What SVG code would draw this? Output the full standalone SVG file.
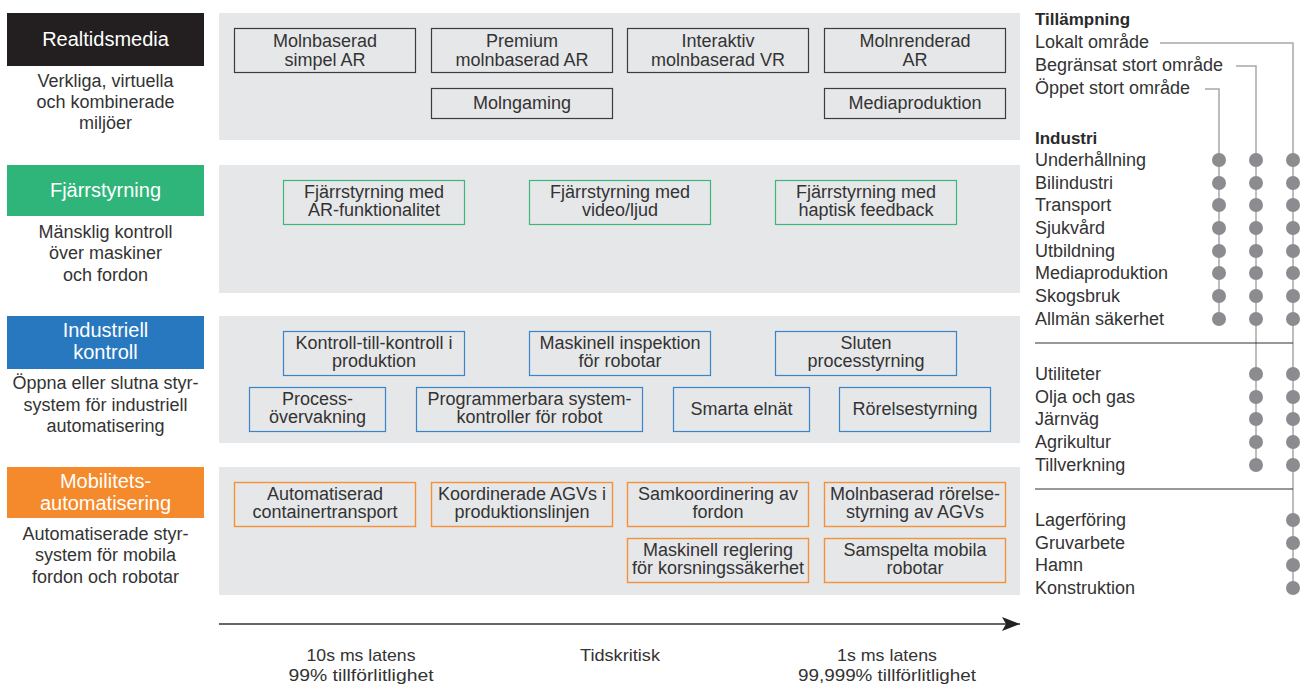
<svg xmlns="http://www.w3.org/2000/svg" width="1306" height="684" viewBox="0 0 1306 684">
<defs>
<style>
text{font-family:"Liberation Sans",Arial,sans-serif;fill:#333;}
.t{font-size:18px;text-anchor:middle;}
.h{font-size:20px;text-anchor:middle;fill:#fff;}
.d{font-size:18px;text-anchor:middle;}
.l{font-size:18px;}
.lb{font-size:17px;font-weight:bold;fill:#2a2a2a;}
.ax{font-size:17px;text-anchor:middle;}
.panel{fill:#e6e7e9;}
.b1{fill:none;stroke:#3c3c3c;stroke-width:1.2;}
.b2{fill:none;stroke:#3fb57e;stroke-width:1.2;}
.b3{fill:none;stroke:#3a84c8;stroke-width:1.2;}
.b4{fill:none;stroke:#f39238;stroke-width:1.4;}
.vl{fill:none;stroke:#a8a8a8;stroke-width:1.5;}
.dot{fill:#8c8c90;}
.div{stroke:#333;stroke-width:1.2;}
</style>
<marker id="arr" markerWidth="20" markerHeight="14" refX="18" refY="7" orient="auto" markerUnits="userSpaceOnUse">
<path d="M0,0 L18,7 L0,14 L4,7 Z" fill="#222"/>
</marker>
</defs>

<g id="panels">
<rect class="panel" x="219" y="13" width="801" height="127"/>
<rect class="panel" x="219" y="165" width="801" height="128"/>
<rect class="panel" x="219" y="316" width="801" height="127"/>
<rect class="panel" x="219" y="467" width="801" height="128"/>
</g>

<g id="hdr-realtid">
<rect x="7" y="13" width="197" height="53" fill="#231f20"/>
<text class="h" x="105.5" y="46">Realtidsmedia</text>
<text class="d" x="105.5" y="87">Verkliga, virtuella</text>
<text class="d" x="105.5" y="108">och kombinerade</text>
<text class="d" x="105.5" y="129">miljöer</text>
</g>
<g id="hdr-fjarr">
<rect x="7" y="165" width="197" height="51" fill="#2fb57a"/>
<text class="h" x="105.5" y="197">Fjärrstyrning</text>
<text class="d" x="105.5" y="238">Mänsklig kontroll</text>
<text class="d" x="105.5" y="259">över maskiner</text>
<text class="d" x="105.5" y="281">och fordon</text>
</g>
<g id="hdr-ind">
<rect x="7" y="316" width="197" height="53" fill="#2878c0"/>
<text class="h" x="105.5" y="337">Industriell</text>
<text class="h" x="105.5" y="359">kontroll</text>
<text class="d" x="105.5" y="389">Öppna eller slutna styr-</text>
<text class="d" x="105.5" y="411">system för industriell</text>
<text class="d" x="105.5" y="432">automatisering</text>
</g>
<g id="hdr-mob">
<rect x="7" y="467" width="197" height="51" fill="#f58a2c"/>
<text class="h" x="105.5" y="488">Mobilitets-</text>
<text class="h" x="105.5" y="510">automatisering</text>
<text class="d" x="105.5" y="540">Automatiserade styr-</text>
<text class="d" x="105.5" y="561">system för mobila</text>
<text class="d" x="105.5" y="583">fordon och robotar</text>
</g>

<g id="n-simpelar"><rect class="b1" x="234.5" y="28.5" width="181" height="44"/><text class="t" x="325" y="47">Molnbaserad</text><text class="t" x="325" y="66">simpel AR</text></g>
<g id="n-premium"><rect class="b1" x="431.5" y="28.5" width="181" height="44"/><text class="t" x="522" y="47">Premium</text><text class="t" x="522" y="66">molnbaserad AR</text></g>
<g id="n-vr"><rect class="b1" x="627.5" y="28.5" width="181" height="44"/><text class="t" x="718" y="47">Interaktiv</text><text class="t" x="718" y="66">molnbaserad VR</text></g>
<g id="n-renderad"><rect class="b1" x="824.5" y="28.5" width="181" height="44"/><text class="t" x="915" y="47">Molnrenderad</text><text class="t" x="915" y="66">AR</text></g>
<g id="n-gaming"><rect class="b1" x="431.5" y="88.5" width="181" height="30"/><text class="t" x="522" y="109">Molngaming</text></g>
<g id="n-mediaprod"><rect class="b1" x="824.5" y="88.5" width="181" height="30"/><text class="t" x="915" y="109">Mediaproduktion</text></g>

<g id="n-fj-ar"><rect class="b2" x="283.5" y="180.5" width="181" height="44"/><text class="t" x="374" y="198">Fjärrstyrning med</text><text class="t" x="374" y="216">AR-funktionalitet</text></g>
<g id="n-fj-video"><rect class="b2" x="529.5" y="180.5" width="181" height="44"/><text class="t" x="620" y="198">Fjärrstyrning med</text><text class="t" x="620" y="216">video/ljud</text></g>
<g id="n-fj-hapt"><rect class="b2" x="775.5" y="180.5" width="181" height="44"/><text class="t" x="866" y="198">Fjärrstyrning med</text><text class="t" x="866" y="216">haptisk feedback</text></g>

<g id="n-k2k"><rect class="b3" x="283.5" y="331.5" width="181" height="44"/><text class="t" x="374" y="349">Kontroll-till-kontroll i</text><text class="t" x="374" y="367">produktion</text></g>
<g id="n-insp"><rect class="b3" x="529.5" y="331.5" width="181" height="44"/><text class="t" x="620" y="349">Maskinell inspektion</text><text class="t" x="620" y="367">för robotar</text></g>
<g id="n-sluten"><rect class="b3" x="775.5" y="331.5" width="181" height="44"/><text class="t" x="866" y="349">Sluten</text><text class="t" x="866" y="367">processtyrning</text></g>
<g id="n-procov"><rect class="b3" x="249.5" y="387.5" width="136" height="44"/><text class="t" x="317.5" y="405">Process-</text><text class="t" x="317.5" y="423">övervakning</text></g>
<g id="n-prog"><rect class="b3" x="416.5" y="387.5" width="226" height="44"/><text class="t" x="529.5" y="405">Programmerbara system-</text><text class="t" x="529.5" y="423">kontroller för robot</text></g>
<g id="n-smarta"><rect class="b3" x="673.5" y="387.5" width="136" height="44"/><text class="t" x="741.5" y="415">Smarta elnät</text></g>
<g id="n-rorelse"><rect class="b3" x="839.5" y="387.5" width="151" height="44"/><text class="t" x="915" y="415">Rörelsestyrning</text></g>

<g id="n-cont"><rect class="b4" x="234.5" y="482.5" width="181" height="44"/><text class="t" x="325" y="500">Automatiserad</text><text class="t" x="325" y="518">containertransport</text></g>
<g id="n-agv"><rect class="b4" x="431.5" y="482.5" width="181" height="44"/><text class="t" x="522" y="500">Koordinerade AGVs i</text><text class="t" x="522" y="518">produktionslinjen</text></g>
<g id="n-samk"><rect class="b4" x="627.5" y="482.5" width="181" height="44"/><text class="t" x="718" y="500">Samkoordinering av</text><text class="t" x="718" y="518">fordon</text></g>
<g id="n-molnagv"><rect class="b4" x="824.5" y="482.5" width="181" height="44"/><text class="t" x="915" y="500">Molnbaserad rörelse-</text><text class="t" x="915" y="518">styrning av AGVs</text></g>
<g id="n-korsning"><rect class="b4" x="627.5" y="538.5" width="181" height="44"/><text class="t" x="718" y="556">Maskinell reglering</text><text class="t" x="718" y="574">för korsningssäkerhet</text></g>
<g id="n-samspelta"><rect class="b4" x="824.5" y="538.5" width="181" height="44"/><text class="t" x="915" y="556">Samspelta mobila</text><text class="t" x="915" y="574">robotar</text></g>

<g id="connectors">
<line x1="219" y1="624" x2="1020" y2="624" stroke="#333" stroke-width="1.5" marker-end="url(#arr)"/>
<polyline class="vl" points="1160,43 1293,43 1293,588"/>
<polyline class="vl" points="1236,66 1256,66 1256,465"/>
<polyline class="vl" points="1205,89 1219,89 1219,319"/>
<line class="div" x1="1035" y1="343" x2="1293" y2="343"/>
<line class="div" x1="1035" y1="489" x2="1293" y2="489"/>
</g>

<g id="axis-labels">
<text class="ax" x="361" y="661" textLength="109" lengthAdjust="spacingAndGlyphs">10s ms latens</text>
<text class="ax" x="361" y="681" textLength="145" lengthAdjust="spacingAndGlyphs">99% tillförlitlighet</text>
<text class="ax" x="620" y="661" textLength="80" lengthAdjust="spacingAndGlyphs">Tidskritisk</text>
<text class="ax" x="887" y="661" textLength="100" lengthAdjust="spacingAndGlyphs">1s ms latens</text>
<text class="ax" x="887" y="681" textLength="178" lengthAdjust="spacingAndGlyphs">99,999% tillförlitlighet</text>
</g>

<g id="legend">
<text class="lb" x="1035" y="25">Tillämpning</text>
<text class="l" x="1035" y="48">Lokalt område</text>
<text class="l" x="1035" y="71">Begränsat stort område</text>
<text class="l" x="1035" y="94">Öppet stort område</text>
<text class="lb" x="1035" y="144">Industri</text>
<text class="l" x="1035" y="166">Underhållning</text>
<text class="l" x="1035" y="189">Bilindustri</text>
<text class="l" x="1035" y="211">Transport</text>
<text class="l" x="1035" y="234">Sjukvård</text>
<text class="l" x="1035" y="257">Utbildning</text>
<text class="l" x="1035" y="279">Mediaproduktion</text>
<text class="l" x="1035" y="302">Skogsbruk</text>
<text class="l" x="1035" y="325">Allmän säkerhet</text>
<text class="l" x="1035" y="380">Utiliteter</text>
<text class="l" x="1035" y="403">Olja och gas</text>
<text class="l" x="1035" y="425">Järnväg</text>
<text class="l" x="1035" y="448">Agrikultur</text>
<text class="l" x="1035" y="471">Tillverkning</text>
<text class="l" x="1035" y="526">Lagerföring</text>
<text class="l" x="1035" y="549">Gruvarbete</text>
<text class="l" x="1035" y="571">Hamn</text>
<text class="l" x="1035" y="594">Konstruktion</text>
<g id="dots">
<circle class="dot" cx="1219" cy="160" r="7"/><circle class="dot" cx="1256" cy="160" r="7"/><circle class="dot" cx="1293" cy="160" r="7"/>
<circle class="dot" cx="1219" cy="183" r="7"/><circle class="dot" cx="1256" cy="183" r="7"/><circle class="dot" cx="1293" cy="183" r="7"/>
<circle class="dot" cx="1219" cy="205" r="7"/><circle class="dot" cx="1256" cy="205" r="7"/><circle class="dot" cx="1293" cy="205" r="7"/>
<circle class="dot" cx="1219" cy="228" r="7"/><circle class="dot" cx="1256" cy="228" r="7"/><circle class="dot" cx="1293" cy="228" r="7"/>
<circle class="dot" cx="1219" cy="251" r="7"/><circle class="dot" cx="1256" cy="251" r="7"/><circle class="dot" cx="1293" cy="251" r="7"/>
<circle class="dot" cx="1219" cy="273" r="7"/><circle class="dot" cx="1256" cy="273" r="7"/><circle class="dot" cx="1293" cy="273" r="7"/>
<circle class="dot" cx="1219" cy="296" r="7"/><circle class="dot" cx="1256" cy="296" r="7"/><circle class="dot" cx="1293" cy="296" r="7"/>
<circle class="dot" cx="1219" cy="319" r="7"/><circle class="dot" cx="1256" cy="319" r="7"/><circle class="dot" cx="1293" cy="319" r="7"/>
<circle class="dot" cx="1256" cy="374" r="7"/><circle class="dot" cx="1293" cy="374" r="7"/>
<circle class="dot" cx="1256" cy="397" r="7"/><circle class="dot" cx="1293" cy="397" r="7"/>
<circle class="dot" cx="1256" cy="419" r="7"/><circle class="dot" cx="1293" cy="419" r="7"/>
<circle class="dot" cx="1256" cy="442" r="7"/><circle class="dot" cx="1293" cy="442" r="7"/>
<circle class="dot" cx="1256" cy="465" r="7"/><circle class="dot" cx="1293" cy="465" r="7"/>
<circle class="dot" cx="1293" cy="520" r="7"/>
<circle class="dot" cx="1293" cy="543" r="7"/>
<circle class="dot" cx="1293" cy="565" r="7"/>
<circle class="dot" cx="1293" cy="588" r="7"/>
</g>
</g>
</svg>
